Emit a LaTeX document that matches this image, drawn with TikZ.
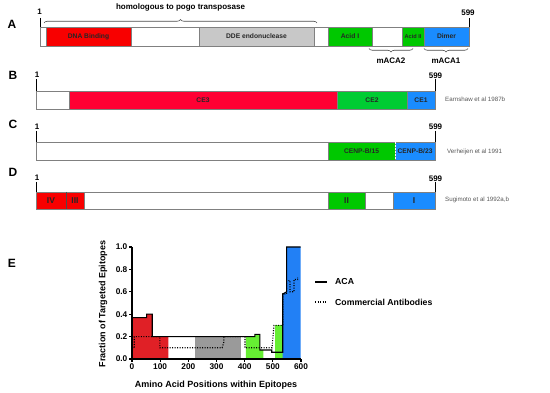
\documentclass[tikz,border=0pt]{standalone}
\usepackage{fontspec}
\setmainfont{Liberation Sans}
\usetikzlibrary{decorations.pathreplacing}
\definecolor{barline}{HTML}{808080}
\definecolor{cRed}{HTML}{F80000}
\definecolor{cGrey}{HTML}{C8C8C8}
\definecolor{cGreen}{HTML}{00C800}
\definecolor{cBlue}{HTML}{1A8CFF}
\definecolor{cCrim}{HTML}{FF0033}
\definecolor{cGreenB}{HTML}{00CC33}
\definecolor{pRed}{HTML}{E02026}
\definecolor{pGrey}{HTML}{9A9A9A}
\definecolor{pGreen}{HTML}{66EE33}
\definecolor{pBlue}{HTML}{2280F5}
\newcommand{\bseg}[5]{\filldraw[segbox, fill=#5] (#1,#3) rectangle (#2,#4);}
\begin{document}
\begin{tikzpicture}[x=1pt,y=-1pt,
  segbox/.style={draw=barline, line width=0.7pt},
  inlbl/.style={font=\fontsize{6.7}{7}\selectfont\bfseries, text=black!85, inner sep=0},
  romlbl/.style={font=\fontsize{8.5}{9}\selectfont\bfseries, text=black!85, inner sep=0},
  rowletter/.style={font=\fontsize{12}{14}\selectfont\bfseries, inner sep=0},
  numlbl/.style={font=\fontsize{8}{9}\selectfont\bfseries, inner sep=0},
  reflbl/.style={font=\fontsize{6.2}{7}\selectfont, text=black!65, anchor=west, inner sep=0},
  tickln/.style={line width=0.7pt},
  bracestyle/.style={decorate, decoration={brace, amplitude=3.5pt}, line width=0.6pt, draw=black!70},
  axisln/.style={line width=1.2pt},
  acaln/.style={line width=1.1pt},
  comln/.style={line width=1.1pt, dash pattern=on 1.1pt off 1.4pt},
  axlbl/.style={font=\fontsize{9}{10}\selectfont\bfseries, inner sep=0},
  lglbl/.style={font=\fontsize{8.7}{10}\selectfont\bfseries, inner sep=0, anchor=west},
  ticklbl/.style={font=\fontsize{8.3}{9}\selectfont\bfseries, inner sep=0}
]
\useasboundingbox[fill=white] (0,0) rectangle (550,393);

% ---------- Row A ----------
\node[rowletter] (lA) at (12,24) {A};
\bseg{40}{46}{27}{46}{white}
\bseg{46}{131}{27}{46}{cRed}
\bseg{131}{199}{27}{46}{white}
\bseg{199}{314}{27}{46}{cGrey}
\bseg{314}{328}{27}{46}{white}
\bseg{328}{372}{27}{46}{cGreen}
\bseg{372}{402}{27}{46}{white}
\bseg{402}{424}{27}{46}{cGreen}
\bseg{424}{469}{27}{46}{cBlue}
\node[inlbl] (aDNA) at (88.5,36.5) {DNA Binding};
\node[inlbl] (aDDE) at (256.5,36.5) {DDE endonuclease};
\node[inlbl] (aAc1) at (350,36.5) {Acid I};
\node[inlbl, font=\fontsize{5.6}{6}\selectfont\bfseries] (aAc2) at (413,36.5) {Acid II};
\node[inlbl] (aDim) at (446.5,36.5) {Dimer};
\coordinate (aT1a) at (40,18); \coordinate (aT1b) at (40,27);
\coordinate (aT2a) at (469,18); \coordinate (aT2b) at (469,27);
\draw[tickln] (aT1a) -- (aT1b);
\draw[tickln] (aT2a) -- (aT2b);
\node[numlbl] (a1) at (39.5,12) {1};
\node[numlbl] (a599) at (468,13) {599};
\coordinate (brL) at (44,23); \coordinate (brR) at (317,23);
\draw[bracestyle] (brL) -- (brR);
\node[numlbl] (homo) at (180.5,7.5) {homologous to pogo transposase};
\coordinate (m2R) at (413,48.5); \coordinate (m2L) at (369,48.5);
\draw[bracestyle] (m2R) -- (m2L);
\node[numlbl] (mA2) at (391,61) {mACA2};
\coordinate (m1R) at (468,48.5); \coordinate (m1L) at (424,48.5);
\draw[bracestyle] (m1R) -- (m1L);
\node[numlbl] (mA1) at (446,61) {mACA1};

% ---------- Row B ----------
\node[rowletter] (lB) at (13,75) {B};
\bseg{36}{69}{91}{109}{white}
\bseg{69}{337}{91}{109}{cCrim}
\bseg{337}{407}{91}{109}{cGreenB}
\bseg{407}{435}{91}{109}{cBlue}
\node[inlbl] (bCE3) at (203,100) {CE3};
\node[inlbl] (bCE2) at (372,100) {CE2};
\node[inlbl] (bCE1) at (421,100) {CE1};
\coordinate (bT1a) at (36,79); \coordinate (bT1b) at (36,91);
\coordinate (bT2a) at (435,79); \coordinate (bT2b) at (435,91);
\draw[tickln] (bT1a) -- (bT1b);
\draw[tickln] (bT2a) -- (bT2b);
\node[numlbl] (b1) at (37,75) {1};
\node[numlbl] (b599) at (435.5,75.5) {599};
\node[reflbl] (bref) at (445,99.5) {Earnshaw et al 1987b};

% ---------- Row C ----------
\node[rowletter] (lC) at (13,124) {C};
\bseg{36}{328}{142}{160}{white}
\bseg{328}{395}{142}{160}{cGreen}
\bseg{395}{435}{142}{160}{cBlue}
\coordinate (cDa) at (395,142.5); \coordinate (cDb) at (395,159.5);
\draw[white, line width=0.8pt, dash pattern=on 1.5pt off 1.5pt] (cDa) -- (cDb);
\node[inlbl] (cB15) at (361.5,151) {CENP-B/15};
\node[inlbl] (cB23) at (415,151) {CENP-B/23};
\coordinate (cT1a) at (36,131); \coordinate (cT1b) at (36,142);
\coordinate (cT2a) at (435,131); \coordinate (cT2b) at (435,142);
\draw[tickln] (cT1a) -- (cT1b);
\draw[tickln] (cT2a) -- (cT2b);
\node[numlbl] (c1) at (37,127) {1};
\node[numlbl] (c599) at (435.5,127) {599};
\node[reflbl] (cref) at (447,152) {Verheijen et al 1991};

% ---------- Row D ----------
\node[rowletter] (lD) at (13,172.5) {D};
\bseg{36}{66}{192}{209}{cRed}
\bseg{66}{84}{192}{209}{cRed}
\bseg{84}{328}{192}{209}{white}
\bseg{328}{365}{192}{209}{cGreen}
\bseg{365}{393}{192}{209}{white}
\bseg{393}{435}{192}{209}{cBlue}
\coordinate (dSa) at (66,192); \coordinate (dSb) at (66,209);
\draw[black!70, line width=0.6pt] (dSa) -- (dSb);
\node[romlbl] (dIV) at (51,200.5) {IV};
\node[romlbl] (dIII) at (75,200.5) {III};
\node[romlbl] (dII) at (346.5,200.5) {II};
\node[romlbl] (dI) at (414,200.5) {I};
\coordinate (dT1a) at (36,182); \coordinate (dT1b) at (36,192);
\coordinate (dT2a) at (435,182); \coordinate (dT2b) at (435,192);
\draw[tickln] (dT1a) -- (dT1b);
\draw[tickln] (dT2a) -- (dT2b);
\node[numlbl] (d1) at (37,178) {1};
\node[numlbl] (d599) at (435.5,178.5) {599};
\node[reflbl] (dref) at (445,200) {Sugimoto et al 1992a,b};

% ---------- Panel E ----------
\node[rowletter] (lE) at (12,263) {E};
\begin{scope}[xshift=132pt, yshift=-359pt, x=0.2817pt, y=112pt]
  \fill[pRed] (0,0) -- (0,0.37) -- (52,0.37) -- (52,0.40) -- (72,0.40) -- (72,0.2) -- (129,0.2) -- (129,0) -- cycle;
  \fill[pGrey] (224,0) rectangle (387,0.2);
  \fill[pGreen] (404,0) -- (404,0.2) -- (436,0.2) -- (436,0.22) -- (454,0.22) -- (454,0.08) -- (466,0.08) -- (466,0) -- cycle;
  \fill[pGreen] (508,0) rectangle (535,0.3);
  \fill[pBlue] (535,0) -- (535,0.58) -- (549,0.6) -- (549,1) -- (599,1) -- (599,0) -- cycle;
  % commercial antibodies
  \draw[comln] (0,0.1) -- (8,0.1) -- (8,0.2) -- (99,0.2) -- (99,0.1) -- (320,0.1) -- (326,0.15) -- (326,0.2) -- (401,0.2) -- (401,0.1) -- (497,0.1) -- (504,0.3) -- (535,0.3) -- (535,0.58) -- (549,0.58) -- (549,0.7) -- (561,0.7) -- (561,0.6) -- (575,0.6) -- (575,0.71) -- (588,0.71) -- (588,0.73);
  % ACA
  \draw[acaln] (0,0.37) -- (52,0.37) -- (52,0.40) -- (72,0.40) -- (72,0.2) -- (436,0.2) -- (436,0.22) -- (454,0.22) -- (454,0.08) -- (496,0.08) -- (496,0.06) -- (535,0.06) -- (535,0.58) -- (549,0.6) -- (549,1) -- (599,1);
  % axes
  \coordinate (yTop) at (0,1); \coordinate (orig) at (0,0); \coordinate (xEnd) at (600,0);
  \draw[axisln] (yTop) -- (orig) -- (xEnd);
  \foreach \v/\t [count=\i] in {0/0.0,0.2/0.2,0.4/0.4,0.6/0.6,0.8/0.8,1/1.0} {
    \draw[axisln] (0,\v) -- ++(-3.5pt,0);
    \node[ticklbl, anchor=east] (yl\i) at ([xshift=-4.5pt]0,\v) {\t};
  }
  \foreach \v [count=\i] in {0,100,200,300,400,500,600} {
    \draw[axisln] (\v,0) -- ++(0,-3.5pt);
    \node[ticklbl, anchor=north] (xl\i) at ([yshift=-5pt]\v,0) {\v};
  }
\end{scope}
\node[axlbl] (xTitle) at (216,385) {Amino Acid Positions within Epitopes};
\node[axlbl, rotate=90] (yTitle) at (103,304) {Fraction of Targeted Epitopes};
\coordinate (lg1a) at (315,282); \coordinate (lg1b) at (327,282);
\draw[acaln] (lg1a) -- (lg1b);
\node[lglbl] (lgACA) at (335,282) {ACA};
\coordinate (lg2a) at (315,302); \coordinate (lg2b) at (327,302);
\draw[comln] (lg2a) -- (lg2b);
\node[lglbl] (lgCom) at (335,302) {Commercial Antibodies};
\end{tikzpicture}
\end{document}
